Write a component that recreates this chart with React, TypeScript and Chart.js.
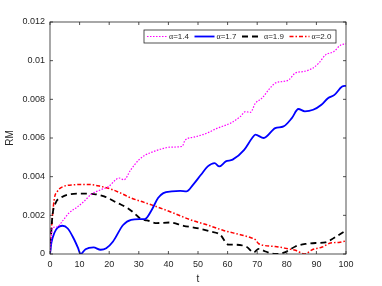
import React, { useEffect, useRef } from "react";
import { Chart, registerables } from "chart.js";

Chart.register(...registerables);

const seriesLabels = ["1.4", "1.7", "1.9", "2.0"];

const tA14 = [0, 0.8, 2.4, 4.1, 6.4, 9.2, 11.5, 13.8, 17.1, 19.9, 22.2, 23.3, 25, 27.3, 30.1, 32, 35, 37.8, 40.6, 44.6, 45.7, 48.5, 53, 56.4, 61, 64.3, 66, 67.7, 69.4, 71.6, 73.9, 76.1, 78.9, 80.6, 82.9, 85.7, 88.6, 90.8, 93.1, 95.9, 98.1, 100];
const vA14 = [0, 0.00134, 0.0014, 0.00168, 0.00212, 0.00243, 0.00272, 0.00307, 0.00332, 0.0035, 0.00384, 0.00393, 0.00384, 0.00436, 0.00488, 0.0051, 0.0053, 0.00544, 0.00553, 0.00556, 0.0059, 0.00604, 0.00625, 0.0065, 0.00677, 0.00711, 0.00736, 0.00733, 0.0078, 0.00806, 0.0085, 0.00884, 0.00893, 0.009, 0.00936, 0.00944, 0.0096, 0.00987, 0.0103, 0.01047, 0.0108, 0.01087];

const tA17 = [0, 0.5, 1.5, 2.5, 4.2, 6, 8, 9.5, 10.3, 12, 14.7, 17.1, 19, 21.3, 24.7, 27.4, 30.2, 32, 34.4, 36.5, 38.3, 41.1, 44, 46.1, 48.3, 51, 53.3, 55.6, 57.2, 59.4, 61.7, 65.6, 68.3, 69.4, 72.2, 76.1, 78.9, 81.7, 83.9, 86.1, 88.9, 91.7, 93.9, 96.1, 98.7, 100];
const vA17 = [0, 0.0006, 0.0011, 0.00135, 0.00146, 0.00132, 0.0008, 0.0003, 0, 0.00025, 0.00034, 0.00022, 0.0003, 0.00065, 0.0015, 0.00177, 0.0018, 0.0018, 0.00229, 0.0029, 0.00315, 0.00324, 0.00326, 0.00324, 0.00358, 0.0041, 0.00453, 0.0047, 0.00453, 0.00479, 0.00488, 0.00539, 0.006, 0.00617, 0.006, 0.00651, 0.0066, 0.00703, 0.0075, 0.00738, 0.00746, 0.00772, 0.00806, 0.00823, 0.00866, 0.0087];

const tA19 = [0, 0.8, 1.9, 3.6, 5.9, 10.4, 14.9, 18.3, 22.8, 26.2, 28.4, 30.7, 32.7, 36.1, 40.6, 45.1, 49.6, 54.1, 57.5, 60.3, 62.6, 66.5, 68.8, 70.5, 72.8, 76.1, 79.5, 82.9, 86.3, 89.7, 93.1, 95.9, 100];
const vA19 = [0, 0.00194, 0.00264, 0.0029, 0.00307, 0.00312, 0.0031, 0.00298, 0.00264, 0.00238, 0.00212, 0.00181, 0.00174, 0.0016, 0.00163, 0.00146, 0.00134, 0.00117, 0.001, 0.00048, 0.00048, 0.00036, 0.00008, 0.00026, 0.00013, 0, 0.0001, 0.00039, 0.00052, 0.00057, 0.0006, 0.00083, 0.00122];

const tA20 = [0, 0.4, 1.4, 2.5, 4.7, 8.1, 12.6, 17.1, 20.5, 23.9, 27.3, 31.8, 37.2, 41.7, 47.4, 53, 58.6, 64.3, 67.7, 69.4, 70.5, 76.1, 80.6, 82.9, 86.1, 88.6, 92, 94.8, 97.6, 100];
const vA20 = [0, 0.00108, 0.0028, 0.00324, 0.0035, 0.00358, 0.0036, 0.0035, 0.00336, 0.00315, 0.0029, 0.00267, 0.00238, 0.00212, 0.00177, 0.00151, 0.00122, 0.001, 0.00085, 0.00074, 0.00053, 0.00039, 0.00026, 0.00019, 0, 0.00022, 0.00036, 0.00057, 0.0006, 0.00068];

const xTicks = [0, 10, 20, 30, 40, 50, 60, 70, 80, 90, 100];
const yTicks = [0, 0.002, 0.004, 0.006, 0.008, 0.01, 0.012];

const AXIS = "#262626";
const SANS = "'Liberation Sans', Arial, sans-serif";

const toPts = (t: number[], v: number[]) => t.map((x, i) => ({ x, y: v[i] }));

const boxPlugin = {
  id: "matlabBox",
  afterDraw(chart: any) {
    const { ctx, chartArea: a, scales } = chart;
    ctx.save();
    ctx.strokeStyle = AXIS;
    ctx.lineWidth = 0.8;
    ctx.strokeRect(a.left, a.top, a.right - a.left, a.bottom - a.top);
    ctx.beginPath();
    const tl = 3;
    xTicks.forEach((v) => {
      const x = scales.x.getPixelForValue(v);
      ctx.moveTo(x, a.bottom);
      ctx.lineTo(x, a.bottom - tl);
      ctx.moveTo(x, a.top);
      ctx.lineTo(x, a.top + tl);
    });
    yTicks.forEach((v) => {
      const y = scales.y.getPixelForValue(v);
      ctx.moveTo(a.left, y);
      ctx.lineTo(a.left + tl, y);
      ctx.moveTo(a.right, y);
      ctx.lineTo(a.right - tl, y);
    });
    ctx.stroke();

    // legend
    const bx = 144, by = 30, bw = 192, bh = 13;
    ctx.fillStyle = "#ffffff";
    ctx.fillRect(bx, by, bw, bh);
    ctx.strokeStyle = AXIS;
    ctx.lineWidth = 0.8;
    ctx.strokeRect(bx, by, bw, bh);
    const cy = by + bh / 2;
    chart.data.datasets.forEach((ds: any, i: number) => {
      const sx = 147 + 47.5 * i;
      ctx.save();
      ctx.strokeStyle = ds.borderColor;
      ctx.lineWidth = ds.borderWidth;
      ctx.setLineDash(ds.borderDash || []);
      ctx.beginPath();
      ctx.moveTo(sx, cy);
      ctx.lineTo(sx + 20, cy);
      ctx.stroke();
      ctx.restore();
      ctx.fillStyle = AXIS;
      ctx.textBaseline = "middle";
      ctx.textAlign = "left";
      ctx.font = "8px 'Liberation Serif', serif";
      const tx = sx + 22;
      ctx.fillText("\u03b1", tx, cy + 0.5);
      const aw = ctx.measureText("\u03b1").width;
      ctx.font = "8px " + SANS;
      ctx.fillText("=" + seriesLabels[i], tx + aw, cy);
    });
    ctx.restore();
  },
};

export default function App() {
  const ref = useRef<HTMLCanvasElement | null>(null);
  useEffect(() => {
    if (!ref.current) return;
    const mk = (t: number[], v: number[], color: string, width: number, dash: number[], label: string) => ({
      label: "\u03b1=" + label,
      data: toPts(t, v),
      borderColor: color,
      backgroundColor: color,
      borderWidth: width,
      borderDash: dash,
      pointRadius: 0,
      fill: false,
      cubicInterpolationMode: "monotone" as const,
    });
    const chart = new Chart(ref.current, {
      type: "line",
      data: {
        datasets: [
          mk(tA14, vA14, "#ff00ff", 1.2, [1.5, 1.5], seriesLabels[0]),
          mk(tA17, vA17, "#0000ff", 1.8, [], seriesLabels[1]),
          mk(tA19, vA19, "#000000", 1.8, [6, 4], seriesLabels[2]),
          mk(tA20, vA20, "#ff0000", 1.5, [4, 2, 1.5, 2], seriesLabels[3]),
        ],
      },
      options: {
        animation: false,
        responsive: false,
        devicePixelRatio: 1,
        layout: { padding: { top: 22, right: 36, left: 0, bottom: 0 } },
        plugins: { legend: { display: false }, tooltip: { enabled: false } },
        scales: {
          x: {
            type: "linear",
            min: 0,
            max: 100,
            afterFit: (s: any) => { s.height = 32; },
            afterBuildTicks: (s: any) => { s.ticks = xTicks.map((v) => ({ value: v })); },
            grid: { display: false, drawTicks: false },
            border: { display: false },
            ticks: { color: AXIS, font: { family: SANS, size: 9 }, padding: 5, maxRotation: 0, autoSkip: false },
            title: { display: true, text: "t", color: AXIS, font: { family: SANS, size: 10 }, padding: { top: 0, bottom: 1 } },
          },
          y: {
            type: "linear",
            min: 0,
            max: 0.012,
            afterFit: (s: any) => { s.width = 50; },
            afterBuildTicks: (s: any) => { s.ticks = yTicks.map((v) => ({ value: v })); },
            grid: { display: false, drawTicks: false },
            border: { display: false },
            ticks: {
              color: AXIS,
              font: { family: SANS, size: 9 },
              padding: 5,
              autoSkip: false,
              callback: (v: any) => String(Number(Number(v).toFixed(3))),
            },
            title: { display: true, text: "RM", color: AXIS, font: { family: SANS, size: 10 }, padding: { top: 4, bottom: 0 } },
          },
        },
      },
      plugins: [boxPlugin],
    });
    return () => chart.destroy();
  }, []);
  return (
    <div style={{ position: "absolute", left: 0, top: 0, width: 382, height: 286, background: "#fff" }}>
      <canvas ref={ref} width={382} height={286} style={{ width: 382, height: 286, display: "block" }} />
    </div>
  );
}
